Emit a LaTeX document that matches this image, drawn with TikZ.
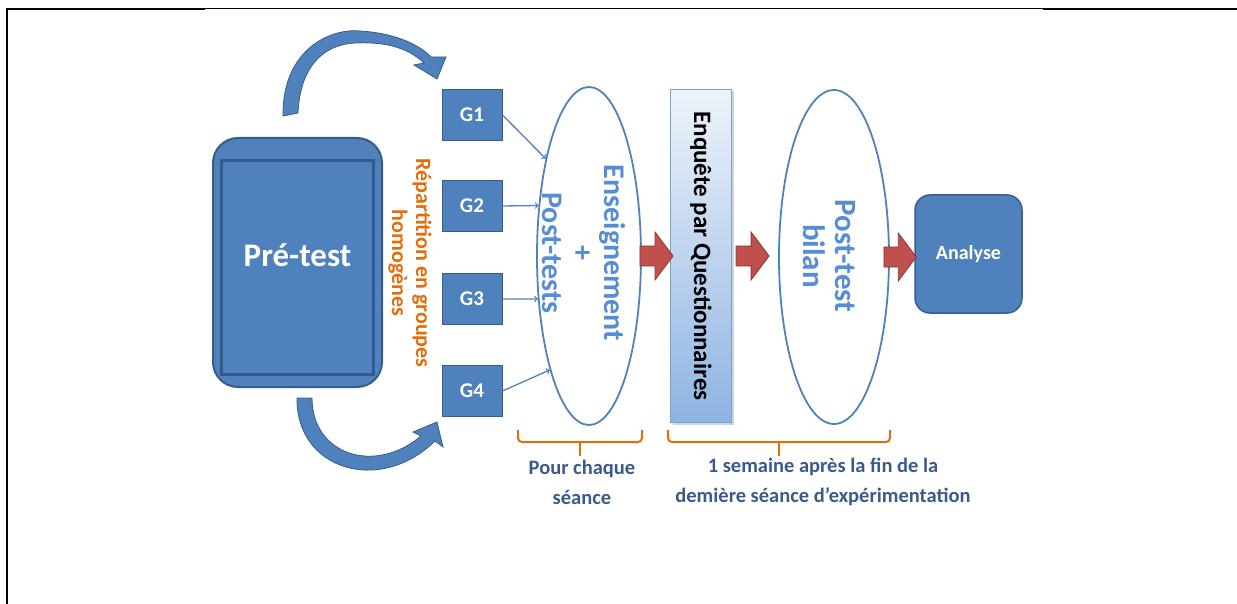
\documentclass[tikz,border=0pt]{standalone}
\usepackage{fontspec}
\setmainfont{Carlito}
\usetikzlibrary{calc}
\usetikzlibrary{arrows}
\usetikzlibrary{shapes.geometric,shadows,positioning}

\definecolor{boxblue}{HTML}{4F81BD}
\definecolor{boxline}{HTML}{385D8A}
\definecolor{innerline}{HTML}{325A8C}
\definecolor{textblue}{HTML}{558ED5}
\definecolor{labelblue}{HTML}{3B5A8C}
\definecolor{orangetxt}{HTML}{E46C0A}
\definecolor{arrowred}{HTML}{C0504D}
\definecolor{arrowline}{HTML}{8C3836}
\definecolor{questop}{HTML}{EEF3FA}
\definecolor{quesbot}{HTML}{8EB4E3}
\definecolor{quesline}{HTML}{7DA2CF}

\tikzset{
 gbox/.style={draw=boxline, fill=boxblue, line width=1, minimum width=60, minimum height=51,
   text=white, font=\fontsize{21}{24}\selectfont\bfseries},
 oval/.style={ellipse, draw=boxblue, line width=1.8, fill=white},
 ovaltxt/.style={rotate=-90, align=center, text=textblue, font=\fontsize{30}{31}\selectfont\bfseries},
 labeltxt/.style={align=center, text=labelblue, font=\fontsize{20.5}{30}\selectfont\bfseries},
 redarrow/.style={fill=arrowred, draw=arrowline, line width=0.8},
 curvearrow/.style={fill=boxblue, draw=boxline, line width=0.8}
}

% red block arrow between two points
\newcommand{\bigarrow}[2]{%
 \filldraw[redarrow] let \p1=#1, \p2=#2 in
  (\x1,\y1+10) -- (\x2-18,\y1+10) -- (\x2-18,\y1+24) -- (\x2,\y1)
  -- (\x2-18,\y1-24) -- (\x2-18,\y1-10) -- (\x1,\y1-10) -- cycle;}

\begin{document}
\begin{tikzpicture}[x=1pt,y=-1pt]
\useasboundingbox (0,0) rectangle (1237,604);
% frame
\draw[line width=2] (7,604) -- (7,9) -- (205,9);
\draw[line width=1] (205,9) -- (1043,9);
\draw[line width=2.5] (1043,9) -- (1237,9);

% pre-test
\node[draw=boxline, fill=boxblue, line width=2, rounded corners=25,
  minimum width=169, minimum height=249] (pretest) at (297.5,262.5) {};
\draw[innerline, line width=3, fill=boxblue] ($(pretest.north west)+(9,24)$) rectangle ($(pretest.south east)+(-10,-14)$);
\node[text=white, font=\fontsize{33}{36}\selectfont\bfseries] (pretxt) at ($(pretest.center)+(0,-7)$) {Pré-test};

% curved arrows
\filldraw[curvearrow] (283,116) .. controls (282,50) and (330,28) .. (360,31)
  .. controls (395,33) and (420,45) .. (431,57) -- (446,57) -- (437,79) -- (414,65) -- (424,63)
  .. controls (405,45) and (380,42) .. (355,43) .. controls (320,45) and (300,70) .. (298,113) -- cycle;
\filldraw[curvearrow] (297,398) .. controls (296,470) and (380,495) .. (435,441)
  -- (443,447) -- (437,422) -- (413,432) -- (421,436)
  .. controls (375,475) and (312,455) .. (312,398) -- cycle;

\node[rotate=-90, align=center, text=orangetxt, font=\fontsize{22}{24}\selectfont\bfseries] (repart) at (410,263)
  {Répartition en groupes\\homogènes};

% groups
\node[oval, minimum width=104, minimum height=338] (ens) at (589,256) {};
\foreach \i/\y in {1/115,2/206,3/299,4/391}
 \node[gbox] (g\i) at (472,\y) {G\i};
\foreach \i/\a in {1/114,2/135,3/220,4/251}
 \draw[boxblue, line width=1.3, ->] (g\i.east) -- (ens.\a);
\node[ovaltxt] (enstxt) at (584,253) {Enseignement\\+\\Post-tests};

% questionnaire
\node[draw=quesline, line width=1, top color=questop, bottom color=quesbot,
  minimum width=61, minimum height=333,
  drop shadow={shadow xshift=2pt, shadow yshift=-2pt, opacity=0.35}] (enq) at (701,256) {};
\node[rotate=-90, font=\fontsize{25}{28}\selectfont\bfseries] (enqtxt) at (enq) {Enquête par Questionnaires};

\node[oval, minimum width=110, minimum height=334] (bilan) at (834,257) {};
\node[ovaltxt, font=\fontsize{31}{32}\selectfont\bfseries] (bilantxt) at (829,256) {Post-test\\bilan};

\node[draw=boxline, fill=boxblue, line width=1.5, rounded corners=15, minimum width=107,
  minimum height=118, text=white, font=\fontsize{20}{24}\selectfont\bfseries] (analyse) at (968.5,254) {Analyse};

\bigarrow{($(ens.east)+(-2,0)$)}{($(enq.west)+(3,0)$)}
\bigarrow{($(enq.east)+(4,0)$)}{($(bilan.west)+(-9,0)$)}
\bigarrow{($(bilan.east)+(-6,0)$)}{($(analyse.west)+(2,0)$)}

% brackets
\foreach \a/\b/\m in {518/642/580, 668/890/779} {
 \draw[orangetxt, line width=2, rounded corners=4] (\a,430) -- (\a,442) -- (\b,442) -- (\b,430);
 \draw[orangetxt, line width=2] (\m,442) -- (\m,456);
}
\node[labeltxt] (lab1) at (582,482) {Pour chaque\\séance};
\node[labeltxt] (lab2) at (823,482) {1 semaine après la fin de la\\demière séance d’expérimentation};
\end{tikzpicture}
\end{document}
